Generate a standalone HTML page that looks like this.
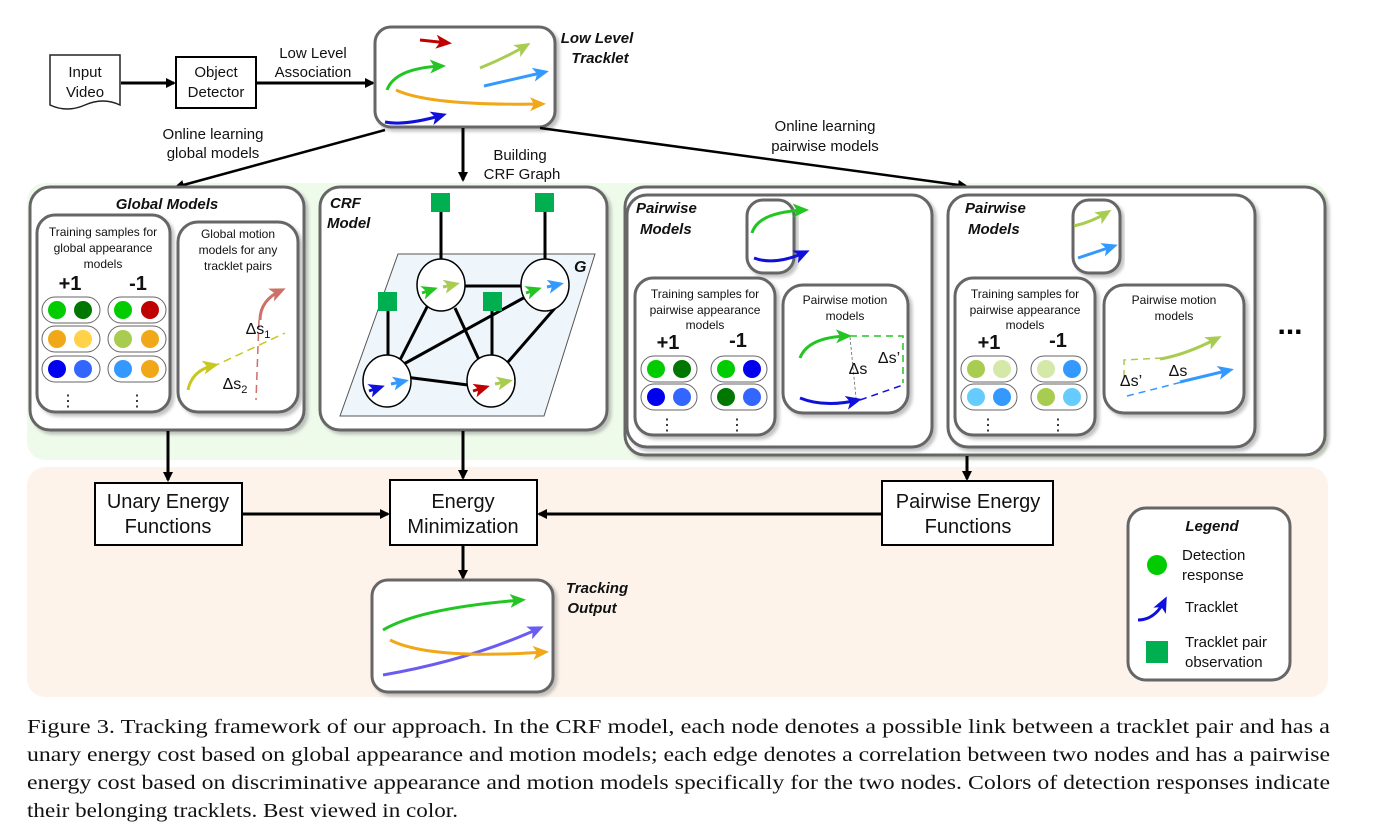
<!DOCTYPE html>
<html><head><meta charset="utf-8"><style>
body{margin:0;background:#fff}
svg text{font-family:"Liberation Sans",sans-serif}
svg text.cap{font-family:"Liberation Serif",serif;font-size:20px;fill:#111}
</style></head><body>
<svg width="1388" height="837" style="position:absolute;left:0;top:0">
<defs>
<marker id="k" markerWidth="10" markerHeight="10" refX="8" refY="5" orient="auto" markerUnits="userSpaceOnUse"><path d="M0,0L10,5L0,10z" fill="#000"/></marker>
<marker id="g" markerWidth="16" markerHeight="14" refX="12" refY="7" orient="auto" markerUnits="userSpaceOnUse"><path d="M0,0L16,7L0,14L4,7z" fill="#22c522"/></marker>
<marker id="r" markerWidth="16" markerHeight="14" refX="12" refY="7" orient="auto" markerUnits="userSpaceOnUse"><path d="M0,0L16,7L0,14L4,7z" fill="#c00000"/></marker>
<marker id="lg" markerWidth="16" markerHeight="14" refX="12" refY="7" orient="auto" markerUnits="userSpaceOnUse"><path d="M0,0L16,7L0,14L4,7z" fill="#a8cc50"/></marker>
<marker id="lb" markerWidth="16" markerHeight="14" refX="12" refY="7" orient="auto" markerUnits="userSpaceOnUse"><path d="M0,0L16,7L0,14L4,7z" fill="#3399ff"/></marker>
<marker id="o" markerWidth="16" markerHeight="14" refX="12" refY="7" orient="auto" markerUnits="userSpaceOnUse"><path d="M0,0L16,7L0,14L4,7z" fill="#f0a818"/></marker>
<marker id="b" markerWidth="16" markerHeight="14" refX="12" refY="7" orient="auto" markerUnits="userSpaceOnUse"><path d="M0,0L16,7L0,14L4,7z" fill="#1010dd"/></marker>
<marker id="p" markerWidth="16" markerHeight="14" refX="12" refY="7" orient="auto" markerUnits="userSpaceOnUse"><path d="M0,0L16,7L0,14L4,7z" fill="#6a5cf0"/></marker>
<marker id="pk" markerWidth="16" markerHeight="14" refX="12" refY="7" orient="auto" markerUnits="userSpaceOnUse"><path d="M0,0L16,7L0,14L4,7z" fill="#cc7068"/></marker>
<marker id="y" markerWidth="16" markerHeight="14" refX="12" refY="7" orient="auto" markerUnits="userSpaceOnUse"><path d="M0,0L16,7L0,14L4,7z" fill="#c8c820"/></marker>
<filter id="sh"><feDropShadow dx="3" dy="3" stdDeviation="1.5" flood-color="#999" flood-opacity="0.6"/></filter>
</defs>
<rect x="27" y="183" width="1301" height="277" rx="18" fill="#eefbea"/>
<rect x="27" y="467" width="1301" height="230" rx="18" fill="#fdf3ea"/>

<g stroke-width="2.5" fill="none">
<path d="M50,55H120V105Q103,97 85,105Q67,113 50,105Z" stroke="#222" stroke-width="1.5" fill="#fff"/>
<rect x="176" y="57" width="80" height="51" stroke="#000" stroke-width="2" fill="#fff"/>
<line x1="121" y1="83" x2="174" y2="83" stroke="#000" marker-end="url(#k)" stroke-width="3"/>
<line x1="257" y1="83" x2="373" y2="83" stroke="#000" marker-end="url(#k)" stroke-width="3"/>
<rect x="375" y="27" width="180" height="100" rx="16" stroke="#666" stroke-width="3" fill="#fff" filter="url(#sh)"/>
<path d="M420,40L448,43" stroke="#c00000" stroke-width="3" marker-end="url(#r)"/>
<path d="M480,68Q505,58 527,45" stroke="#a8cc50" stroke-width="3" marker-end="url(#lg)"/>
<path d="M387,90Q395,68 442,66" stroke="#22c522" stroke-width="3" marker-end="url(#g)"/>
<path d="M484,86L545,72" stroke="#3399ff" stroke-width="3" marker-end="url(#lb)"/>
<path d="M396,90Q430,106 542,104" stroke="#f0a818" stroke-width="3" marker-end="url(#o)"/>
<path d="M385,122Q405,126 443,115" stroke="#1010dd" stroke-width="3" marker-end="url(#b)"/>
<line x1="385" y1="130" x2="176" y2="187" stroke="#000" stroke-width="2.5" marker-end="url(#k)"/>
<line x1="463" y1="128" x2="463" y2="180" stroke="#000" stroke-width="3" marker-end="url(#k)"/>
<line x1="540" y1="128" x2="966" y2="186" stroke="#000" stroke-width="2.5" marker-end="url(#k)"/>

<rect x="30" y="187" width="274" height="243" rx="20" stroke="#666" stroke-width="3" fill="#fff" filter="url(#sh)"/>
<rect x="37" y="215" width="133" height="197" rx="18" stroke="#666" stroke-width="3" fill="#fff" filter="url(#sh)"/>
<rect x="178" y="222" width="120" height="190" rx="20" stroke="#666" stroke-width="3" fill="#fff" filter="url(#sh)"/>
<path d="M188,390Q192,370 215,365" stroke="#c8c820" stroke-width="3" marker-end="url(#y)"/>
<line x1="212" y1="367" x2="285" y2="333" stroke="#c8c820" stroke-width="1.5" stroke-dasharray="8,5"/>
<path d="M260,320Q260,300 282,290" stroke="#cc7068" stroke-width="3" marker-end="url(#pk)"/>
<line x1="259" y1="320" x2="256" y2="400" stroke="#cc7068" stroke-width="1.5" stroke-dasharray="8,5"/>

<rect x="320" y="187" width="287" height="243" rx="20" stroke="#666" stroke-width="3" fill="#fff" filter="url(#sh)"/>
<path d="M398,254H595L544,416H340Z" stroke="#555" stroke-width="1" fill="#eef6fb"/>
<g stroke="#000" stroke-width="3">
<line x1="441" y1="210" x2="441" y2="262"/><line x1="545" y1="210" x2="545" y2="262"/>
<line x1="388" y1="300" x2="388" y2="357"/><line x1="492" y1="300" x2="492" y2="362"/>
<line x1="463" y1="286" x2="521" y2="286"/>
<line x1="405" y1="377" x2="468" y2="385"/>
<line x1="428" y1="305" x2="400" y2="360"/><line x1="455" y1="308" x2="480" y2="362"/>
<line x1="402" y1="365" x2="527" y2="296"/><line x1="555" y1="308" x2="508" y2="362"/>
</g>
<g stroke="#000" stroke-width="1.5" fill="#fff">
<ellipse cx="441" cy="285" rx="24" ry="26"/><ellipse cx="545" cy="285" rx="24" ry="26"/>
<ellipse cx="387" cy="381" rx="24" ry="26"/><ellipse cx="491" cy="381" rx="24" ry="26"/>
</g>
<g fill="#00b050" stroke="none"><rect x="431" y="193" width="19" height="19"/><rect x="535" y="193" width="19" height="19"/><rect x="378" y="292" width="19" height="19"/><rect x="483" y="292" width="19" height="19"/></g>
<path d="M422,293L434,289" stroke="#22c522" stroke-width="3" marker-end="url(#g)"/>
<path d="M443,287L456,284" stroke="#a8cc50" stroke-width="3" marker-end="url(#lg)"/>
<path d="M526,293L538,289" stroke="#22c522" stroke-width="3" marker-end="url(#g)"/>
<path d="M547,287L560,284" stroke="#3399ff" stroke-width="3" marker-end="url(#lb)"/>
<path d="M369,391L381,387" stroke="#1010dd" stroke-width="3" marker-end="url(#b)"/>
<path d="M391,384L405,381" stroke="#3399ff" stroke-width="3" marker-end="url(#lb)"/>
<path d="M473,391L486,387" stroke="#c00000" stroke-width="3" marker-end="url(#r)"/>
<path d="M495,384L509,381" stroke="#a8cc50" stroke-width="3" marker-end="url(#lg)"/>

<rect x="625" y="187" width="700" height="268" rx="20" stroke="#666" stroke-width="3" fill="#fff" filter="url(#sh)"/>
<rect x="627" y="195" width="305" height="252" rx="20" stroke="#666" stroke-width="3" fill="#fff" filter="url(#sh)"/>
<rect x="948" y="195" width="307" height="252" rx="20" stroke="#666" stroke-width="3" fill="#fff" filter="url(#sh)"/>
<rect x="747" y="200" width="47" height="73" rx="16" stroke="#666" stroke-width="3" fill="#fff" filter="url(#sh)"/>
<rect x="1073" y="200" width="47" height="73" rx="16" stroke="#666" stroke-width="3" fill="#fff" filter="url(#sh)"/>
<path d="M752,233Q758,212 805,210" stroke="#22c522" stroke-width="3" marker-end="url(#g)"/>
<path d="M754,258Q775,266 806,252" stroke="#1010dd" stroke-width="3" marker-end="url(#b)"/>
<path d="M1074,226Q1092,222 1108,212" stroke="#a8cc50" stroke-width="3" marker-end="url(#lg)"/>
<path d="M1078,258L1114,246" stroke="#3399ff" stroke-width="3" marker-end="url(#lb)"/>
<rect x="635" y="278" width="140" height="157" rx="18" stroke="#666" stroke-width="3" fill="#fff" filter="url(#sh)"/>
<rect x="783" y="285" width="125" height="128" rx="20" stroke="#666" stroke-width="3" fill="#fff" filter="url(#sh)"/>
<rect x="955" y="278" width="140" height="157" rx="18" stroke="#666" stroke-width="3" fill="#fff" filter="url(#sh)"/>
<rect x="1104" y="285" width="140" height="128" rx="20" stroke="#666" stroke-width="3" fill="#fff" filter="url(#sh)"/>
<path d="M800,358Q808,337 848,336" stroke="#22c522" stroke-width="3" marker-end="url(#g)"/>
<path d="M850,336H903V383" stroke="#22c522" stroke-width="1.5" stroke-dasharray="7,5"/>
<path d="M800,398Q825,408 858,400" stroke="#1010dd" stroke-width="3" marker-end="url(#b)"/>
<path d="M860,400L903,385" stroke="#1010dd" stroke-width="1.5" stroke-dasharray="7,5"/>
<line x1="850" y1="337" x2="856" y2="398" stroke="#666" stroke-width="0.8" stroke-dasharray="3,2"/>
<path d="M1160,359Q1185,355 1218,338" stroke="#a8cc50" stroke-width="3" marker-end="url(#lg)"/>
<path d="M1124,377V360L1162,358" stroke="#a8cc50" stroke-width="1.5" stroke-dasharray="7,5"/>
<path d="M1180,382L1230,370" stroke="#3399ff" stroke-width="3" marker-end="url(#lb)"/>
<path d="M1127,396L1182,382" stroke="#3399ff" stroke-width="1.5" stroke-dasharray="7,5"/>

<line x1="168" y1="431" x2="168" y2="480" stroke="#000" stroke-width="3" marker-end="url(#k)"/>
<line x1="463" y1="431" x2="463" y2="478" stroke="#000" stroke-width="3" marker-end="url(#k)"/>
<line x1="967" y1="456" x2="967" y2="479" stroke="#000" stroke-width="3" marker-end="url(#k)"/>
<rect x="95" y="483" width="147" height="62" stroke="#000" stroke-width="2" fill="#fff"/>
<rect x="390" y="480" width="147" height="65" stroke="#000" stroke-width="2" fill="#fff"/>
<rect x="882" y="481" width="171" height="64" stroke="#000" stroke-width="2" fill="#fff"/>
<line x1="243" y1="514" x2="388" y2="514" stroke="#000" stroke-width="3" marker-end="url(#k)"/>
<line x1="881" y1="514" x2="539" y2="514" stroke="#000" stroke-width="3" marker-end="url(#k)"/>
<line x1="463" y1="546" x2="463" y2="578" stroke="#000" stroke-width="3" marker-end="url(#k)"/>
<rect x="372" y="580" width="181" height="112" rx="16" stroke="#666" stroke-width="3" fill="#fff" filter="url(#sh)"/>
<path d="M383,630Q420,608 522,600" stroke="#22c522" stroke-width="3" marker-end="url(#g)"/>
<path d="M383,675Q470,660 540,628" stroke="#6a5cf0" stroke-width="3" marker-end="url(#p)"/>
<path d="M390,640Q430,660 545,652" stroke="#f0a818" stroke-width="3" marker-end="url(#o)"/>
<rect x="1128" y="508" width="162" height="172" rx="18" stroke="#666" stroke-width="3" fill="#fff"/>
<circle cx="1157" cy="565" r="10" fill="#00cc00" stroke="none"/>
<path d="M1138,620Q1155,620 1165,600" stroke="#1010dd" stroke-width="3" marker-end="url(#b)"/>
<rect x="1146" y="641" width="22" height="22" fill="#00b050" stroke="none"/>
</g>

<g stroke="#666" stroke-width="1" fill="#fff">
<rect x="42" y="297" width="58" height="26" rx="13"/><rect x="108" y="297" width="58" height="26" rx="13"/>
<rect x="42" y="326" width="58" height="26" rx="13"/><rect x="108" y="326" width="58" height="26" rx="13"/>
<rect x="42" y="356" width="58" height="26" rx="13"/><rect x="108" y="356" width="58" height="26" rx="13"/>
<rect x="641" y="356" width="56" height="26" rx="13"/><rect x="711" y="356" width="56" height="26" rx="13"/>
<rect x="641" y="384" width="56" height="26" rx="13"/><rect x="711" y="384" width="56" height="26" rx="13"/>
<rect x="961" y="356" width="56" height="26" rx="13"/><rect x="1031" y="356" width="56" height="26" rx="13"/>
<rect x="961" y="384" width="56" height="26" rx="13"/><rect x="1031" y="384" width="56" height="26" rx="13"/>
</g>
<g>
<circle cx="57" cy="310" r="9" fill="#00cc00"/><circle cx="83" cy="310" r="9" fill="#007700"/>
<circle cx="123" cy="310" r="9" fill="#00cc00"/><circle cx="150" cy="310" r="9" fill="#c00000"/>
<circle cx="57" cy="339" r="9" fill="#f0a818"/><circle cx="83" cy="339" r="9" fill="#ffd24a"/>
<circle cx="123" cy="339" r="9" fill="#a8cc50"/><circle cx="150" cy="339" r="9" fill="#f0a818"/>
<circle cx="57" cy="369" r="9" fill="#0000ee"/><circle cx="83" cy="369" r="9" fill="#3366ff"/>
<circle cx="123" cy="369" r="9" fill="#3399ff"/><circle cx="150" cy="369" r="9" fill="#f0a818"/>
<circle cx="656" cy="369" r="9" fill="#00cc00"/><circle cx="682" cy="369" r="9" fill="#007700"/>
<circle cx="726" cy="369" r="9" fill="#00cc00"/><circle cx="752" cy="369" r="9" fill="#0000ee"/>
<circle cx="656" cy="397" r="9" fill="#0000ee"/><circle cx="682" cy="397" r="9" fill="#3366ff"/>
<circle cx="726" cy="397" r="9" fill="#007700"/><circle cx="752" cy="397" r="9" fill="#3366ff"/>
<circle cx="976" cy="369" r="9" fill="#a8cc50"/><circle cx="1002" cy="369" r="9" fill="#d4e8a8"/>
<circle cx="1046" cy="369" r="9" fill="#d4e8a8"/><circle cx="1072" cy="369" r="9" fill="#3399ff"/>
<circle cx="976" cy="397" r="9" fill="#66ccff"/><circle cx="1002" cy="397" r="9" fill="#3399ff"/>
<circle cx="1046" cy="397" r="9" fill="#a8cc50"/><circle cx="1072" cy="397" r="9" fill="#66ccff"/>
</g>

<g font-size="15" fill="#111" text-anchor="middle">
<text x="85" y="77">Input</text><text x="85" y="97">Video</text>
<text x="216" y="77">Object</text><text x="216" y="97">Detector</text>
<text x="313" y="58">Low Level</text><text x="313" y="77">Association</text>
<text x="213" y="139">Online learning</text><text x="213" y="158">global models</text>
<text x="520" y="160">Building</text><text x="522" y="179">CRF Graph</text>
<text x="825" y="131">Online learning</text><text x="825" y="151">pairwise models</text>
</g>
<g font-size="15" font-weight="bold" font-style="italic" fill="#111">
<text x="597" y="43" text-anchor="middle">Low Level</text><text x="600" y="63" text-anchor="middle">Tracklet</text>
<text x="167" y="209" text-anchor="middle">Global Models</text>
<text x="330" y="208">CRF</text><text x="327" y="228">Model</text>
<text x="574" y="272" font-size="16">G</text>
<text x="636" y="213">Pairwise</text><text x="640" y="234">Models</text>
<text x="965" y="213">Pairwise</text><text x="968" y="234">Models</text>
<text x="597" y="593" text-anchor="middle">Tracking</text><text x="592" y="613" text-anchor="middle">Output</text>
<text x="1212" y="531" text-anchor="middle">Legend</text>
</g>
<g font-size="12" fill="#111" text-anchor="middle">
<text x="103" y="236">Training samples for</text><text x="103" y="252">global appearance</text><text x="103" y="268">models</text>
<text x="238" y="238">Global motion</text><text x="238" y="254">models for any</text><text x="238" y="270">tracklet pairs</text>
<text x="705" y="298">Training samples for</text><text x="705" y="314">pairwise appearance</text><text x="705" y="329">models</text>
<text x="845" y="304">Pairwise motion</text><text x="845" y="320">models</text>
<text x="1025" y="298">Training samples for</text><text x="1025" y="314">pairwise appearance</text><text x="1025" y="329">models</text>
<text x="1174" y="304">Pairwise motion</text><text x="1174" y="320">models</text>
</g>
<g font-size="20" font-weight="bold" fill="#111" text-anchor="middle">
<text x="70" y="290">+1</text><text x="138" y="290">-1</text>
<text x="668" y="349">+1</text><text x="738" y="347">-1</text>
<text x="989" y="349">+1</text><text x="1058" y="347">-1</text>
</g>
<g font-size="16" fill="#111" text-anchor="middle">
<text x="68" y="406">⋮</text><text x="137" y="406">⋮</text>
<text x="667" y="430">⋮</text><text x="737" y="430">⋮</text>
<text x="988" y="430">⋮</text><text x="1058" y="430">⋮</text>
<text x="258" y="334">Δs<tspan font-size="11" dy="4">1</tspan></text>
<text x="235" y="389">Δs<tspan font-size="11" dy="4">2</tspan></text>
<text x="858" y="374">Δs</text><text x="889" y="363">Δs’</text>
<text x="1178" y="376">Δs</text><text x="1131" y="386">Δs’</text>
</g>
<text x="1290" y="334" font-size="30" font-weight="bold" text-anchor="middle">...</text>
<g font-size="20" fill="#111" text-anchor="middle">
<text x="168" y="508">Unary Energy</text><text x="168" y="533">Functions</text>
<text x="463" y="508">Energy</text><text x="463" y="533">Minimization</text>
<text x="968" y="508">Pairwise Energy</text><text x="968" y="533">Functions</text>
</g>
<g font-size="15" fill="#111">
<text x="1182" y="560">Detection</text><text x="1182" y="580">response</text>
<text x="1185" y="612">Tracklet</text>
<text x="1185" y="647">Tracklet pair</text><text x="1185" y="667">observation</text>
</g>
<text class="cap" x="27" y="733" textLength="1303" lengthAdjust="spacingAndGlyphs">Figure 3. Tracking framework of our approach.  In the CRF model, each node denotes a possible link between a tracklet pair and has a</text>
<text class="cap" x="27" y="761" textLength="1303" lengthAdjust="spacingAndGlyphs">unary energy cost based on global appearance and motion models; each edge denotes a correlation between two nodes and has a pairwise</text>
<text class="cap" x="27" y="789" textLength="1303" lengthAdjust="spacingAndGlyphs">energy cost based on discriminative appearance and motion models specifically for the two nodes. Colors of detection responses indicate</text>
<text class="cap" x="27" y="817" textLength="431" lengthAdjust="spacingAndGlyphs">their belonging tracklets. Best viewed in color.</text>
</svg>
</body></html>
